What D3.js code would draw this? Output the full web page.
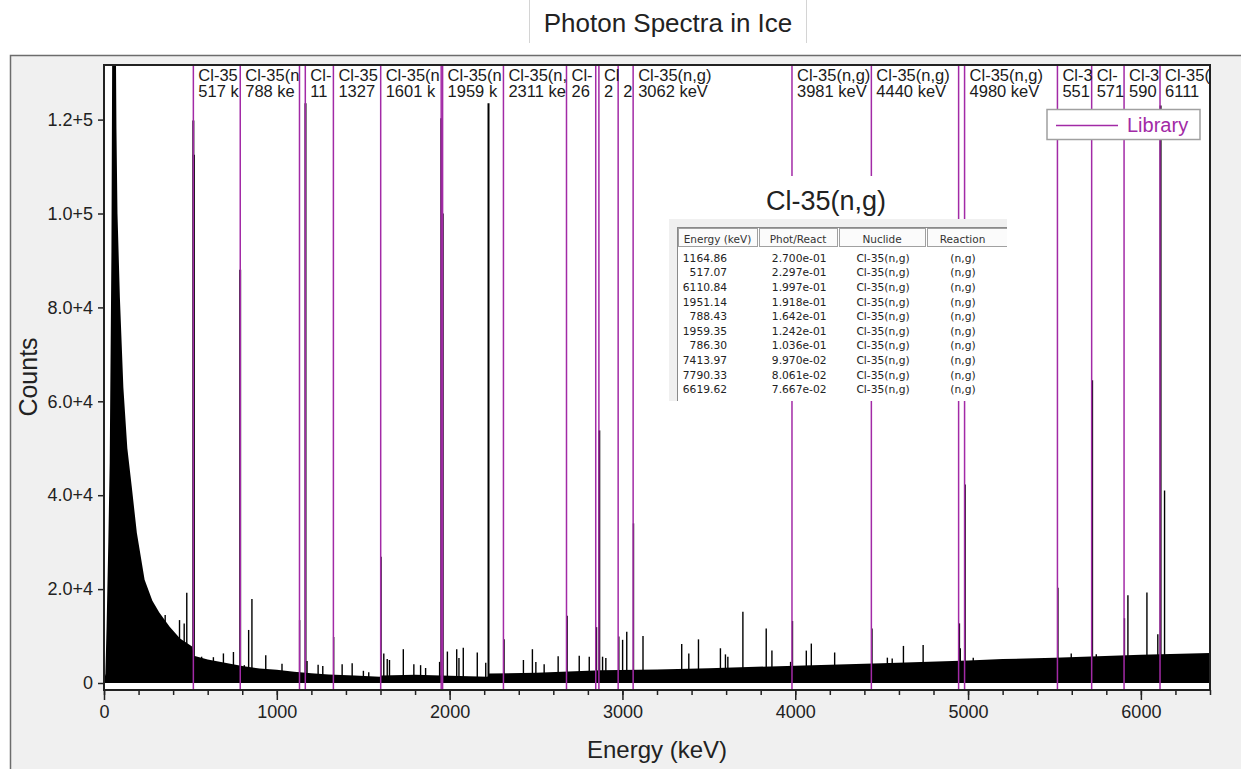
<!DOCTYPE html>
<html>
<head>
<meta charset="utf-8">
<script src="https://cdn.jsdelivr.net/npm/d3@7/dist/d3.min.js"></script>
<style>
  html, body { margin: 0; padding: 0; background: #ffffff; }
  svg { display: block; font-family: "Liberation Sans", Arial, sans-serif; }
</style>
</head>
<body>
<svg id="chart" width="1241" height="769"></svg>
<script>
// ---------------- DATA ----------------
const chartTitle = "Photon Spectra in Ice";
const xLabel = "Energy (keV)";
const yLabel = "Counts";

// Continuum (keV, counts)
const contEnergy = [0, 8, 15, 25, 33, 43, 48, 68, 72, 78, 92, 112, 135, 160, 190, 235, 280, 320, 380, 440, 510, 520, 600, 700, 800, 900, 1000, 1100, 1200, 1300, 1450, 1595, 1605, 1800, 1950, 2220, 2228, 2500, 2875, 3200, 3500, 4000, 4500, 5000, 5200, 5500, 6000, 6400];
const contCounts = [0, 2000, 12000, 30000, 47000, 92000, 140000, 140000, 118000, 100000, 82000, 63000, 50000, 42000, 32000, 22000, 17500, 15000, 12000, 9500, 7800, 5800, 5000, 4300, 3600, 3100, 2800, 2400, 2100, 1800, 1600, 1350, 1600, 1750, 1600, 1350, 2000, 2200, 2700, 2850, 3150, 3700, 4200, 4800, 5100, 5400, 6000, 6400];

// Peaks (keV, counts)
const peakEnergy = [354, 437, 464, 479, 517, 520, 565, 633, 691, 749, 788, 812, 837, 856, 936, 1030, 1132, 1166, 1175, 1239, 1266, 1329, 1378, 1436, 1501, 1532, 1603, 1619, 1639, 1652, 1732, 1793, 1832, 1861, 1942, 1952, 1960, 1987, 2041, 2054, 2079, 2160, 2209, 2225, 2315, 2427, 2479, 2499, 2547, 2628, 2680, 2750, 2808, 2850, 2866, 2885, 2904, 2979, 3001, 3025, 3064, 3119, 3343, 3384, 3440, 3567, 3596, 3610, 3697, 3832, 3865, 3973, 3984, 4064, 4093, 4228, 4444, 4533, 4561, 4626, 4740, 4950, 4955, 4983, 5030, 5520, 5597, 5718, 5742, 5905, 5925, 6035, 6098, 6114, 6137];
const peakCounts = [14500, 13400, 12700, 19200, 119800, 112500, 5600, 5500, 6300, 6600, 88000, 3800, 11300, 17900, 5900, 4100, 13400, 123500, 4700, 3900, 3600, 9800, 4000, 4200, 2600, 2300, 26900, 6300, 5100, 4900, 7200, 4000, 3800, 3200, 4500, 120300, 100000, 6700, 7200, 5300, 7500, 6500, 4300, 123500, 9300, 4900, 7200, 4500, 4000, 5700, 14300, 5800, 5600, 11900, 53800, 5600, 5300, 9900, 9200, 10900, 34000, 10000, 8300, 6300, 9300, 7400, 6100, 5600, 15200, 11600, 6900, 4500, 13200, 6900, 8400, 6500, 11600, 5400, 5200, 7900, 8100, 12700, 7400, 42300, 5400, 20300, 6300, 64500, 6100, 13800, 18700, 19300, 10400, 123000, 41000];

// Library lines
const libraryEnergy = [517.07, 788.43, 1131.25, 1164.86, 1327.4, 1601.1, 1951.14, 1959.35, 2311.4, 2676.3, 2845.5, 2863.8, 2975.2, 3061.9, 3981.1, 4440.4, 4945.3, 4979.8, 5517.2, 5715.2, 5902.7, 6110.8];
const libraryNuclide = "Cl-35(n,g)";
const legendLabel = "Library";

// Axis ticks
const xMajorTicks = [0, 1000, 2000, 3000, 4000, 5000, 6000];
const xMinorTicks = d3.range(0, 6401, 200);
const yTickValues = [0, 20000, 40000, 60000, 80000, 100000, 120000];
const yTickLabels = ["0", "2.0+4", "4.0+4", "6.0+4", "8.0+4", "1.0+5", "1.2+5"];

// Inset table
const tableTitle = "Cl-35(n,g)";
const tableHeaders = ["Energy (keV)", "Phot/React", "Nuclide", "Reaction"];
const tableEnergy = ["1164.86", "517.07", "6110.84", "1951.14", "788.43", "1959.35", "786.30", "7413.97", "7790.33", "6619.62"];
const tablePhot = ["2.700e-01", "2.297e-01", "1.997e-01", "1.918e-01", "1.642e-01", "1.242e-01", "1.036e-01", "9.970e-02", "8.061e-02", "7.667e-02"];
const tableNuclide = ["Cl-35(n,g)", "Cl-35(n,g)", "Cl-35(n,g)", "Cl-35(n,g)", "Cl-35(n,g)", "Cl-35(n,g)", "Cl-35(n,g)", "Cl-35(n,g)", "Cl-35(n,g)", "Cl-35(n,g)"];
const tableReaction = ["(n,g)", "(n,g)", "(n,g)", "(n,g)", "(n,g)", "(n,g)", "(n,g)", "(n,g)", "(n,g)", "(n,g)"];

// ---------------- LAYOUT ----------------
const W = 1241, H = 769;
const P = { left: 104, right: 1210, top: 65, bottom: 690 };
const purple = "#a22aa6";
const ink = "#222";

const svg = d3.select("#chart");

const x = d3.scaleLinear().domain([0, 6400]).range([P.left, P.right]);
const y = d3.scaleLinear().domain([-1490, 131630]).range([P.bottom, P.top]);

// Title box
svg.append("line").attr("x1", 529.5).attr("x2", 529.5).attr("y1", 0).attr("y2", 43).attr("stroke", "#d4d4d4");
svg.append("line").attr("x1", 806.5).attr("x2", 806.5).attr("y1", 0).attr("y2", 43).attr("stroke", "#d4d4d4");
svg.append("text").attr("x", 668).attr("y", 32).attr("text-anchor", "middle")
  .attr("font-size", 26).attr("fill", ink).text(chartTitle);

// Grey frame
svg.append("rect").attr("x", 10.5).attr("y", 55.5).attr("width", W).attr("height", H)
  .attr("fill", "#f0f0f0").attr("stroke", "#6c6c6c").attr("stroke-width", 1.5);

// Plot background
svg.append("rect").attr("x", P.left).attr("y", P.top).attr("width", P.right - P.left)
  .attr("height", P.bottom - P.top).attr("fill", "#ffffff");

// clip
const defs = svg.append("defs");
defs.append("clipPath").attr("id", "plotClip").append("rect")
  .attr("x", P.left).attr("y", P.top).attr("width", P.right - P.left).attr("height", P.bottom - P.top);

const plot = svg.append("g").attr("clip-path", "url(#plotClip)");

// Continuum
const contData = contEnergy.map((e, i) => ({ e, c: contCounts[i] }));
plot.append("path")
  .datum(contData)
  .attr("d", d3.area().x(d => x(d.e)).y0(y(0)).y1(d => y(d.c)))
  .attr("fill", "#000");

// Peaks
const peakData = peakEnergy.map((e, i) => ({ e, c: peakCounts[i] }));
plot.selectAll("line.peak").data(peakData).enter().append("line")
  .attr("class", "peak")
  .attr("x1", d => x(d.e)).attr("x2", d => x(d.e))
  .attr("y1", y(0)).attr("y2", d => y(d.c))
  .attr("stroke", "#000").attr("stroke-width", d => d.c > 50000 ? 2 : 1.4);

// Library lines
const libX = libraryEnergy.map(e => x(e));
plot.selectAll("line.lib").data(libraryEnergy).enter().append("line")
  .attr("class", "lib")
  .attr("x1", d => x(d)).attr("x2", d => x(d))
  .attr("y1", P.top).attr("y2", P.bottom)
  .attr("stroke", purple).attr("stroke-width", 1.5);

// Library labels (truncated to fit between neighbouring lines)
function fitText(sel, s, avail) {
  for (let k = s.length; k > 0; k--) {
    sel.text(s.slice(0, k));
    if (sel.node().getComputedTextLength() <= avail) return true;
  }
  sel.remove();
  return false;
}
const lblGroup = svg.append("g");
libraryEnergy.forEach((e, i) => {
  const x0 = libX[i];
  const x1 = i < libX.length - 1 ? libX[i + 1] : P.right;
  const avail = x1 - (x0 + 5) + 1.5;
  if (avail < 5) return;
  const t1 = lblGroup.append("text").attr("x", x0 + 5).attr("y", 81).attr("font-size", 16.5).attr("fill", "#1a1a1a");
  fitText(t1, libraryNuclide, avail);
  const t2 = lblGroup.append("text").attr("x", x0 + 5).attr("y", 97).attr("font-size", 16.5).attr("fill", "#1a1a1a");
  fitText(t2, Math.round(e) + " keV", avail);
});

// Plot border
svg.append("rect").attr("x", P.left).attr("y", P.top).attr("width", P.right - P.left)
  .attr("height", P.bottom - P.top).attr("fill", "none").attr("stroke", "#222").attr("stroke-width", 2);

// Axes
const xAxisMinor = d3.axisBottom(x).tickValues(xMinorTicks).tickSize(5).tickFormat("");
const xAxisMajor = d3.axisBottom(x).tickValues(xMajorTicks).tickSize(10).tickPadding(5).tickFormat(d3.format("d"));
const gxm = svg.append("g").attr("transform", `translate(0,${P.bottom})`).call(xAxisMinor);
const gx = svg.append("g").attr("transform", `translate(0,${P.bottom})`).call(xAxisMajor);
[gxm, gx].forEach(g => {
  g.select(".domain").remove();
  g.selectAll(".tick line").attr("stroke", "#222").attr("stroke-width", 1.5);
});
gx.selectAll(".tick text").attr("font-size", 18).attr("fill", ink).attr("font-family", "Liberation Sans, Arial, sans-serif");

const yAxis = d3.axisLeft(y).tickValues(yTickValues).tickSize(6).tickPadding(5)
  .tickFormat((d, i) => yTickLabels[i]);
const gy = svg.append("g").attr("transform", `translate(${P.left},0)`).call(yAxis);
gy.select(".domain").remove();
gy.selectAll(".tick line").attr("stroke", "#222").attr("stroke-width", 1.5);
gy.selectAll(".tick text").attr("font-size", 18).attr("fill", ink).attr("font-family", "Liberation Sans, Arial, sans-serif");

// Axis labels
svg.append("text").attr("x", 657).attr("y", 758).attr("text-anchor", "middle")
  .attr("font-size", 24).attr("fill", ink).text(xLabel);
svg.append("text").attr("transform", "translate(37,377) rotate(-90)").attr("text-anchor", "middle")
  .attr("font-size", 25).attr("fill", ink).text(yLabel);

// Legend
const lg = svg.append("g");
lg.append("rect").attr("x", 1047).attr("y", 109.5).attr("width", 153).attr("height", 30)
  .attr("fill", "#fff").attr("stroke", "#a0a0a0").attr("stroke-width", 1.5);
lg.append("line").attr("x1", 1056).attr("x2", 1118).attr("y1", 125.5).attr("y2", 125.5)
  .attr("stroke", purple).attr("stroke-width", 1.5);
lg.append("text").attr("x", 1127).attr("y", 132).attr("font-size", 20).attr("fill", purple).text(legendLabel);

// Inset table
const tfont = "DejaVu Sans, Verdana, sans-serif";
const tb = svg.append("g");
tb.append("rect").attr("x", 669).attr("y", 176).attr("width", 281).attr("height", 44).attr("fill", "#fff");
tb.append("text").attr("x", 826).attr("y", 210).attr("text-anchor", "middle")
  .attr("font-size", 27).attr("fill", ink).text(tableTitle);
tb.append("rect").attr("x", 669).attr("y", 219).attr("width", 338).attr("height", 182).attr("fill", "#f0f0f0");
tb.append("rect").attr("x", 677).attr("y", 227).attr("width", 330).attr("height", 174).attr("fill", "#fff");
tb.append("line").attr("x1", 677.5).attr("x2", 677.5).attr("y1", 227).attr("y2", 401).attr("stroke", "#8a8a8a");
tb.append("line").attr("x1", 677).attr("x2", 1007).attr("y1", 227.5).attr("y2", 227.5).attr("stroke", "#8a8a8a");

const colEdges = [678, 759, 839, 927, 1007];
defs.append("clipPath").attr("id", "tblClip").append("rect")
  .attr("x", 677).attr("y", 227).attr("width", 330).attr("height", 172);
const tg = tb.append("g").attr("clip-path", "url(#tblClip)").attr("font-family", tfont);
tableHeaders.forEach((h, i) => {
  const x0 = colEdges[i], x1 = i < 3 ? colEdges[i + 1] : 1090;
  tg.append("rect").attr("x", x0 + 0.5).attr("y", 228.5).attr("width", x1 - x0 - 2).attr("height", 18)
    .attr("fill", "#fbfbfb").attr("stroke", "#a0a0a0");
  tg.append("text").attr("x", (x0 + x1 - 2) / 2 + (i === 3 ? -45 : 0)).attr("y", 242.5).attr("text-anchor", "middle")
    .attr("font-size", 10.5).attr("fill", "#333").text(h);
});
tableEnergy.forEach((e, i) => {
  const by = 261.7 + i * 14.63;
  tg.append("text").attr("x", 727).attr("y", by).attr("text-anchor", "end").attr("font-size", 10.7).attr("fill", "#222").text(e);
  tg.append("text").attr("x", 826.5).attr("y", by).attr("text-anchor", "end").attr("font-size", 10.7).attr("fill", "#222").text(tablePhot[i]);
  tg.append("text").attr("x", 883).attr("y", by).attr("text-anchor", "middle").attr("font-size", 10.7).attr("fill", "#222").text(tableNuclide[i]);
  tg.append("text").attr("x", 963).attr("y", by).attr("text-anchor", "middle").attr("font-size", 10.7).attr("fill", "#222").text(tableReaction[i]);
});
</script>
</body>
</html>
